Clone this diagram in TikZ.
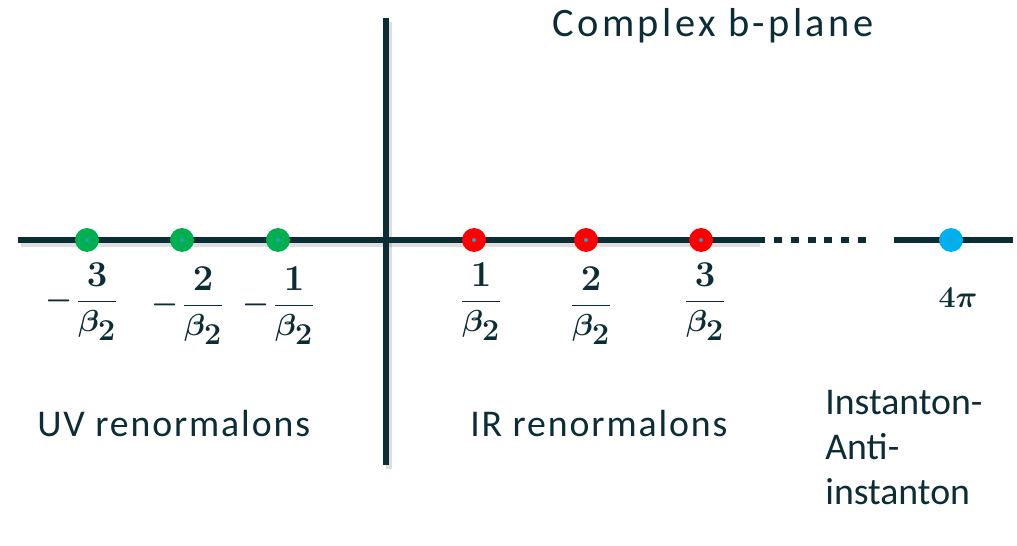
\documentclass[tikz,border=0pt]{standalone}
\usepackage{amsmath,bm}
\usepackage{fontspec}
\setmainfont{Carlito}
\newfontfamily\bptitlefont[LetterSpace=8.5]{Carlito}
\newfontfamily\bpwidefont[LetterSpace=5]{Carlito}
\usetikzlibrary{calc,positioning}
\definecolor{axisteal}{HTML}{0B2D35}
\definecolor{uvgreen}{HTML}{00B050}
\definecolor{irred}{HTML}{FF0000}
\definecolor{instblue}{HTML}{00B0F0}
\definecolor{centreblue}{HTML}{2F9CC0}
\newcommand\bpnum[1]{\mbox{\huge$#1$}}
\newcommand\bpsub[1]{\mbox{\LARGE$#1$}}
\tikzset{
 bp axis/.style={line width=3.4pt,draw=axisteal},
 bp shadow/.style={line width=3.6pt,draw=black,opacity=.13},
 bp dotted/.style={line width=3.4pt,draw=axisteal,dash pattern=on 4.5pt off 5.1pt},
 bp pole/.style={circle,minimum size=13.6pt,inner sep=0pt,outer sep=0pt},
 bp centre/.style={circle,fill=centreblue,minimum size=2.3pt,inner sep=0pt},
 bp frac/.style={text=axisteal,font=\boldmath\LARGE,inner sep=0pt,anchor=base},
 bp text/.style={text=axisteal,font=\fontsize{21.5}{25.5}\selectfont,inner sep=0pt}
}
\begin{document}
\begin{tikzpicture}[x=0.02cm,y=-0.02cm]
 \useasboundingbox (0,0) rectangle (1017,546);
 % axes of the b-plane
 \coordinate (xl) at (18,240);
 \coordinate (xm) at (757,240);
 \coordinate (xd) at (870,240);
 \coordinate (xs) at (894,240);
 \coordinate (xr) at (1013,240);
 \coordinate (yt) at (386,18);
 \coordinate (yb) at (386,465);
 \draw[bp shadow] ($(yt)+(3,4)$)--($(yb)+(3,4)$);
 \draw[bp shadow] ($(xl)+(3,4)$)--($(xm)+(3,4)$);
 \draw[bp axis] (yt)--(yb);
 \draw[bp axis] (xl)--(xm);
 \draw[bp dotted] (xm)--(xd);
 \draw[bp axis] (xs)--(xr);
 % UV renormalons
 \foreach \i/\x/\lx/\ly in {3/87/97/309,2/182/203/313,1/278/294/313}{
   \node[bp pole,fill=uvgreen] (uv\i) at (\x,240) {};
   \node[bp centre] at (uv\i) {};
   \node[bp frac] (uvl\i) at (\lx,\ly) {$\dfrac{\bpnum{\i}}{\beta_{\bpsub{2}}}$};
   \node[bp frac,left=1.5pt of uvl\i.base west,anchor=base east] {$-$};
 }
 % IR renormalons
 \foreach \i/\x/\lx/\ly in {1/474/481/309,2/586/591/313,3/701/705/309}{
   \node[bp pole,fill=irred] (ir\i) at (\x,240) {};
   \node[bp centre] at (ir\i) {};
   \node[bp frac] (irl\i) at (\lx,\ly) {$\dfrac{\bpnum{\i}}{\beta_{\bpsub{2}}}$};
 }
 % instanton
 \node[bp pole,fill=instblue] (inst) at (951,240) {};
 \node[bp centre] at (inst) {};
 \node[bp frac] (instl) at (958,308) {$4\pi$};
 \node[bp text,font=\bptitlefont\fontsize{23}{27}\selectfont,anchor=base west]
   (title) at (552,37) {Complex b-plane};
 \node[bp text,font=\bpwidefont\fontsize{21.5}{25.5}\selectfont,anchor=base west]
   (uvt) at (37,437) {UV renormalons};
 \node[bp text,font=\bpwidefont\fontsize{21.5}{25.5}\selectfont,anchor=base west]
   (irt) at (470,437) {IR renormalons};
 \node[bp text,anchor=north west,align=left] (instt) at (825,390)
   {Instanton-\\Anti-\\instanton};
\end{tikzpicture}
\end{document}
